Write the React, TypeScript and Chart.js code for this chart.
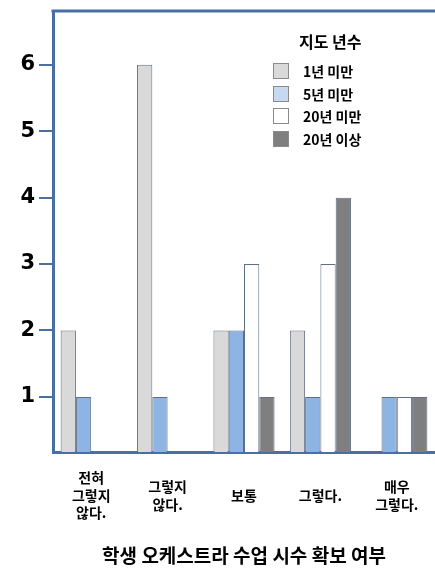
import React, { useEffect, useRef } from "react";
import { Chart, registerables } from "chart.js";

Chart.register(...registerables);

const categories: string[][] = [
  ["전혀", "그렇지", "않다."],
  ["그렇지", "않다."],
  ["보통"],
  ["그렇다."],
  ["매우", "그렇다."],
];
const seriesNames = ["1년 미만", "5년 미만", "20년 미만", "20년 이상"];
const under1 = [2, 6, 2, 2, null];
const under5 = [1, 1, 2, 1, 1];
const under20 = [null, null, 3, 3, 1];
const over20 = [null, null, 1, 4, 1];
const yTicks = [1, 2, 3, 4, 5, 6];
const legendTitle = "지도 년수";
const xTitle = "학생 오케스트라 수업 시수 확보 여부";

const barColors = ["#d9d9d9", "#8eb4e3", "#ffffff", "#7f7f7f"];
const legendColors = ["#d9d9d9", "#c6d9f1", "#ffffff", "#7f7f7f"];
const axisColor = "#4a6fa5";
const KFONT = "'Noto Sans CJK KR', sans-serif";
const NFONT = "'DejaVu Sans', sans-serif";

const topLine = {
  id: "topLine",
  afterDraw(chart: any) {
    const { ctx, chartArea } = chart;
    ctx.save();
    ctx.strokeStyle = axisColor;
    ctx.lineWidth = 3;
    ctx.beginPath();
    ctx.moveTo(chartArea.left - 1.5, chartArea.top);
    ctx.lineTo(chart.width, chartArea.top);
    ctx.stroke();
    ctx.restore();
  },
};

export default function App() {
  const ref = useRef<HTMLCanvasElement>(null);
  useEffect(() => {
    const series = [under1, under5, under20, over20];
    const chart = new Chart(ref.current!, {
      type: "bar",
      data: {
        labels: categories,
        datasets: series.map((d, i) => ({
          label: seriesNames[i],
          data: d,
          backgroundColor: barColors[i],
          borderColor: "#5f6f85",
          borderWidth: 1,
          borderSkipped: "bottom",
          categoryPercentage: 0.8,
          barPercentage: 1.0,
        })),
      },
      plugins: [topLine],
      options: {
        animation: false,
        responsive: false,
        maintainAspectRatio: false,
        layout: { padding: { top: 11, left: 0, right: 0, bottom: 0 } },
        plugins: { legend: { display: false }, tooltip: { enabled: false } },
        scales: {
          x: {
            grid: { display: false },
            border: { display: true, color: axisColor, width: 3 },
            ticks: {
              color: "#000",
              font: { family: KFONT, size: 14, weight: "bold", lineHeight: 1.25 },
              padding: 18,
              maxRotation: 0,
              autoSkip: false,
              crossAlign: "center",
            },
            title: {
              display: true,
              text: xTitle,
              color: "#000",
              font: { family: KFONT, size: 19, weight: "bold" },
              padding: { top: 0, bottom: 6 },
            },
            afterFit(scale: any) {
              scale.height = 121;
              scale.paddingLeft = 0;
              scale.paddingRight = 0;
            },
          },
          y: {
            min: 0.17,
            max: 6.81,
            grid: {
              drawOnChartArea: false,
              drawTicks: true,
              tickLength: 14,
              color: axisColor,
              lineWidth: 2,
            },
            border: { display: true, color: axisColor, width: 3 },
            ticks: {
              color: "#000",
              font: { family: NFONT, size: 21, weight: "bold" },
              padding: 4,
            },
            afterBuildTicks(scale: any) {
              scale.ticks = yTicks.map((v) => ({ value: v }));
            },
            afterFit(scale: any) {
              scale.width = 53;
              scale.paddingTop = 0;
              scale.paddingBottom = 0;
            },
          },
        },
      },
    });
    return () => chart.destroy();
  }, []);

  return (
    <div style={{ position: "fixed", left: 0, top: 0, width: 435, height: 573, background: "#fff" }}>
      <canvas ref={ref} width={435} height={573} style={{ width: 435, height: 573 }} />
      <div
        style={{
          position: "absolute",
          left: 299,
          top: 31,
          fontFamily: KFONT,
          fontWeight: "bold",
          fontSize: 16,
          lineHeight: "20px",
          color: "#000",
        }}
      >
        {legendTitle}
      </div>
      {seriesNames.map((n, i) => (
        <div
          key={n}
          style={{
            position: "absolute",
            left: 273,
            top: 63 + i * 22.7,
            height: 16,
            display: "flex",
            alignItems: "center",
            fontFamily: KFONT,
            fontWeight: "bold",
            fontSize: 14,
            color: "#000",
            whiteSpace: "nowrap",
          }}
        >
          <span
            style={{
              display: "inline-block",
              width: 14,
              height: 14,
              background: legendColors[i],
              border: "1px solid #8a8a8a",
              marginRight: 14,
            }}
          />
          {n}
        </div>
      ))}
    </div>
  );
}
